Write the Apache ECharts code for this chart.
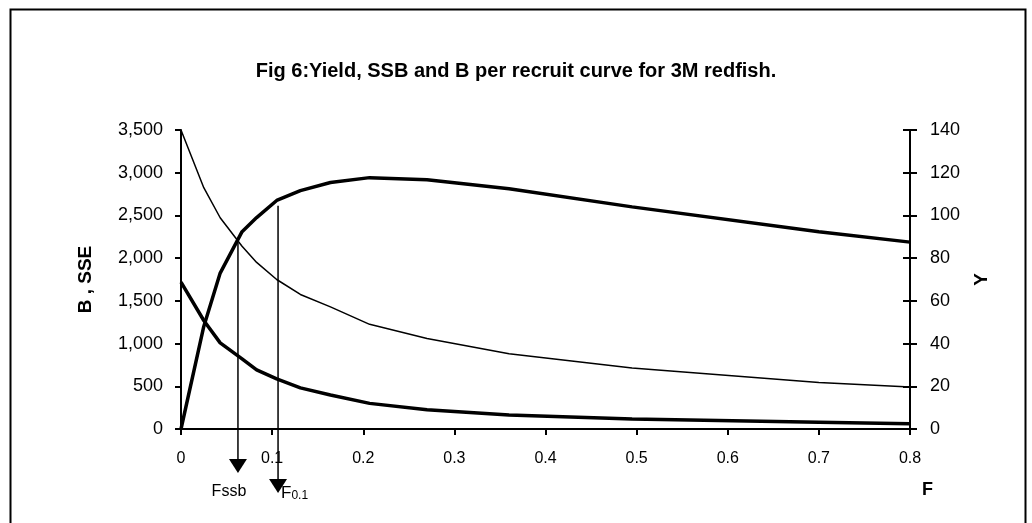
<!DOCTYPE html>
<html>
<head>
<meta charset="utf-8">
<script src="https://cdn.jsdelivr.net/npm/echarts@6/dist/echarts.min.js"></script>
<style>
html,body{margin:0;padding:0;background:#fff;}
#chart{width:1032px;height:523px;}
</style>
</head>
<body>
<div id="chart"></div>
<script>
// Fishing mortality values (x)
const fValues = [0, 0.025, 0.043, 0.067, 0.083, 0.105, 0.131, 0.164, 0.207, 0.27, 0.36, 0.495, 0.70, 0.8];
// Biomass per recruit (left axis)
const bValues = [3500, 2825, 2473, 2140, 1950, 1750, 1575, 1430, 1225, 1060, 880, 715, 545, 492];
// Spawning stock biomass per recruit (left axis)
const ssbValues = [1720, 1270, 1008, 820, 692, 586, 481, 398, 300, 225, 165, 118, 80, 60];
// Yield per recruit (right axis)
const yValues = [0, 48, 73, 92.4, 99, 107, 111.6, 115.4, 117.7, 116.7, 112.5, 104, 92.4, 87.5];
// Reference points: [F, top of line (left-axis units), arrow tip (left-axis units), label]
const refF = [0.0625, 0.1065];
const refTop = [2180, 2614];
const refTip = [-516, -750];
const refLabels = ['Fssb', 'F0.1'];

const pair = (ys) => fValues.map((f, i) => [f, ys[i]]);
const refData = refF.map((f, i) => [f, refTop[i], refTip[i], refLabels[i]]);

const chart = echarts.init(document.getElementById('chart'), null, {renderer: 'canvas'});
const font = 'Liberation Sans, Arial, sans-serif';

chart.setOption({
  animation: false,
  backgroundColor: '#fff',
  textStyle: {fontFamily: font, color: '#000'},
  title: {
    text: 'Fig 6:Yield, SSB and B per recruit curve for 3M redfish.',
    left: 'center', top: 56,
    textStyle: {fontFamily: font, fontSize: 20, fontWeight: 'bold', color: '#000'}
  },
  graphic: [{
    type: 'rect', left: 8, top: 7, silent: true,
    shape: {width: 1015, height: 540},
    style: {fill: 'none', stroke: '#000', lineWidth: 2}
  }],
  grid: {left: 181, right: 122, top: 130, bottom: 94, containLabel: false},
  xAxis: {
    type: 'value', min: 0, max: 0.8, interval: 0.1,
    name: 'F', nameLocation: 'end', nameGap: 12,
    nameTextStyle: {fontSize: 18, fontWeight: 'bold', color: '#000',
      align: 'left', verticalAlign: 'top', padding: [52, 0, 0, 0]},
    axisLine: {show: true, onZero: false, lineStyle: {color: '#000', width: 2}},
    axisTick: {show: true, length: 6, lineStyle: {color: '#000', width: 2}},
    axisLabel: {color: '#000', fontSize: 16, margin: 22,
      formatter: (v) => v === 0 ? '0' : v.toFixed(1)},
    splitLine: {show: false}
  },
  yAxis: [{
    type: 'value', min: 0, max: 3500, interval: 500, position: 'left',
    name: 'B , SSE', nameLocation: 'middle', nameRotate: 90, nameGap: 86,
    nameTextStyle: {fontSize: 19, fontWeight: 'bold', color: '#000'},
    axisLine: {show: true, lineStyle: {color: '#000', width: 2}},
    axisTick: {show: true, length: 6, lineStyle: {color: '#000', width: 2}},
    axisLabel: {color: '#000', fontSize: 18, margin: 18,
      formatter: (v) => v.toLocaleString('en-US')},
    splitLine: {show: false}
  }, {
    type: 'value', min: 0, max: 140, interval: 20, position: 'right',
    name: 'Y', nameLocation: 'middle', nameRotate: 90, nameGap: 62,
    nameTextStyle: {fontSize: 19, fontWeight: 'bold', color: '#000'},
    axisLine: {show: true, lineStyle: {color: '#000', width: 2}},
    axisTick: {show: true, inside: false, length: 7, lineStyle: {color: '#000', width: 2}},
    axisLabel: {color: '#000', fontSize: 18, margin: 20},
    splitLine: {show: false}
  }, {
    // inner half of the crossing ticks on the right axis
    type: 'value', min: 0, max: 140, interval: 20, position: 'right',
    axisLine: {show: false},
    axisTick: {show: true, inside: true, length: 7, lineStyle: {color: '#000', width: 2}},
    axisLabel: {show: false},
    splitLine: {show: false}
  }],
  series: [{
    name: 'B', type: 'line', yAxisIndex: 0, data: pair(bValues),
    showSymbol: false, symbol: 'none', lineStyle: {color: '#000', width: 1.5}
  }, {
    name: 'SSB', type: 'line', yAxisIndex: 0, data: pair(ssbValues),
    showSymbol: false, symbol: 'none', lineStyle: {color: '#000', width: 3.5}
  }, {
    name: 'Y', type: 'line', yAxisIndex: 1, data: pair(yValues),
    showSymbol: false, symbol: 'none', lineStyle: {color: '#000', width: 3.5}
  }, {
    name: 'refs', type: 'custom', yAxisIndex: 0, clip: false, data: refData,
    renderItem: function (params, api) {
      const f = api.value(0);
      const p1 = api.coord([f, api.value(1)]);
      const p2 = api.coord([f, api.value(2)]);
      const lab = refLabels[params.dataIndex];
      const isF01 = lab === 'F0.1';
      const h = 14, w = 9;
      return {
        type: 'group',
        children: [{
          type: 'line',
          shape: {x1: p1[0], y1: p1[1], x2: p2[0], y2: p2[1] - h},
          style: {stroke: '#000', lineWidth: 1.5}
        }, {
          type: 'polygon',
          shape: {points: [[p2[0] - w, p2[1] - h], [p2[0] + w, p2[1] - h], [p2[0], p2[1]]]},
          style: {fill: '#000'}
        }, {
          type: 'text',
          x: isF01 ? p2[0] + 3 : p2[0] - 9,
          y: isF01 ? p2[1] : p2[1] + 19,
          style: isF01 ? {
            text: '{a|F}{b|0.1}',
            align: 'left', verticalAlign: 'middle',
            rich: {
              a: {fontSize: 17, fontFamily: font, color: '#000'},
              b: {fontSize: 12, fontFamily: font, color: '#000', verticalAlign: 'bottom', padding: [4, 0, 0, 0]}
            }
          } : {
            text: lab, fontSize: 16, fontFamily: font, fill: '#000',
            align: 'center', verticalAlign: 'middle'
          }
        }]
      };
    }
  }]
});
</script>
</body>
</html>
